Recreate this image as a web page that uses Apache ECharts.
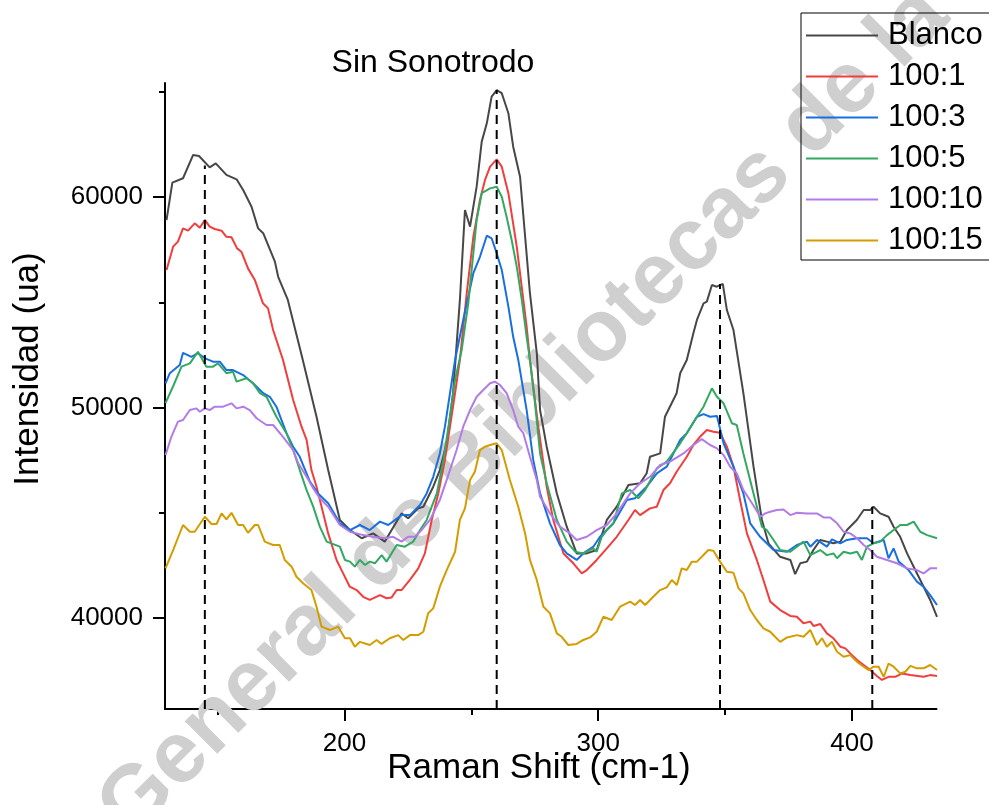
<!DOCTYPE html>
<html>
<head>
<meta charset="utf-8">
<script src="https://cdn.jsdelivr.net/npm/echarts@6/dist/echarts.min.js"></script>
<style>
  html, body { margin: 0; padding: 0; background: #ffffff; }
  #chart { width: 989px; height: 805px; }
</style>
</head>
<body>
<div id="chart"></div>
<script>
// Raman spectra, pairs of [Raman shift (cm-1), intensity (ua)]
const seriesNames = ['Blanco', '100:1', '100:3', '100:5', '100:10', '100:15'];

const blanco = [[129.9,58900],[132.2,60680],[136.4,60890],[140.4,62000],[142.7,61950],[146.9,61410],[149.3,61600],[153.5,61050],[157.5,60840],[160.1,60330],[163.4,59540],[166.0,58510],[168.0,58280],[172.6,56930],[173.9,56210],[177.7,55110],[183.6,52260],[189.0,49560],[193.6,47030],[198.2,44660],[202.2,44180],[206.8,43790],[211.3,44020],[215.9,43630],[218.6,44180],[222.5,44970],[225.1,44740],[229.1,45210],[231.1,45290],[235.0,46240],[237.6,47030],[240.3,48310],[242.8,50690],[245.5,55110],[247.5,59380],[249.5,58590],[252.1,60490],[254.1,62630],[256.1,63500],[258.0,64770],[260.0,65080],[262.0,64930],[264.6,63980],[266.5,62390],[269.2,60960],[273.1,55430],[275.8,52580],[277.1,49880],[279.7,48140],[283.7,45920],[287.6,44340],[291.5,43070],[295.5,43070],[299.4,43230],[303.4,44660],[307.3,45290],[311.9,46320],[316.5,46400],[319.1,46880],[320.4,47660],[324.4,47820],[326.3,49560],[330.9,50680],[332.3,51630],[334.9,52260],[337.5,53530],[338.9,54160],[341.5,54950],[342.8,55030],[344.8,55820],[346.7,55740],[349.1,55870],[350.7,54630],[353.3,53680],[357.2,50680],[361.2,47190],[364.5,44660],[367.1,43550],[371.7,42910],[375.7,42760],[377.6,42090],[379.6,42600],[382.2,42680],[384.8,43230],[387.5,43710],[390.1,43630],[392.7,43550],[395.4,43630],[398.0,44180],[401.9,44660],[404.6,45130],[407.2,45130],[408.5,45290],[411.1,44970],[414.4,44810],[416.4,44340],[419.0,43860],[421.7,43070],[424.3,42440],[426.9,41810],[430.8,40860],[433.5,40060]];

const ratio1 = [[129.9,56530],[132.5,57640],[134.4,57880],[136.4,58510],[138.4,58400],[141.0,58750],[143.0,58540],[145.0,58910],[146.9,58590],[148.9,58480],[151.6,58400],[153.5,58110],[155.5,58090],[157.7,57560],[159.4,57400],[162.0,56610],[164.7,56060],[167.9,54950],[169.9,54710],[171.9,53680],[175.8,52260],[179.8,50360],[183.1,49090],[185.1,48460],[187.0,47030],[189.0,46240],[191.0,45290],[193.6,44020],[196.9,42760],[199.5,42120],[202.1,41490],[204.8,41330],[207.4,41010],[210.0,40860],[214.0,41090],[216.6,40940],[218.6,40980],[220.6,41330],[222.5,41330],[225.8,41810],[229.1,42360],[231.7,43070],[234.4,44660],[237.0,45920],[239.6,47510],[241.6,49090],[243.6,50680],[245.5,52260],[248.2,55430],[250.8,58110],[253.4,59860],[255.4,60810],[257.4,61440],[260.0,61790],[262.0,61440],[264.6,60180],[267.9,57640],[271.8,53840],[273.1,52260],[276.4,49090],[279.7,46240],[282.3,44660],[286.3,43070],[290.2,42600],[293.5,42120],[295.5,42280],[299.4,42760],[303.4,43310],[307.3,43860],[311.9,44660],[314.5,45130],[316.5,44890],[320.4,45210],[323.1,45290],[325.7,46080],[328.3,46400],[330.9,46950],[334.9,47660],[337.5,48220],[340.1,48610],[342.8,48930],[345.4,48850],[348.0,48800],[350.7,48140],[353.3,47190],[355.9,45610],[358.6,44020],[362.5,42760],[365.1,41810],[367.8,40780],[371.7,40380],[375.7,40100],[378.3,40060],[380.9,39750],[383.6,39830],[384.9,39620],[387.5,39720],[390.1,39270],[392.7,39040],[395.4,38640],[397.4,38560],[399.3,38320],[402.0,38010],[404.6,37770],[407.2,37530],[409.8,37250],[411.8,37060],[414.4,37210],[417.1,37210],[419.7,37370],[423.0,37290],[428.2,37210],[430.8,37290],[433.5,37250]];

const ratio3 = [[129.5,51150],[131.2,51630],[135.1,52020],[136.4,52600],[139.7,52410],[142.3,52580],[144.9,52350],[148.2,52180],[150.9,52180],[153.5,51780],[156.1,51780],[160.1,51540],[164.0,51150],[168.0,50680],[170.6,50510],[173.2,50040],[177.2,48770],[179.8,48140],[182.4,47660],[186.4,46480],[189.6,45920],[193.6,45450],[198.2,44500],[202.2,44180],[206.1,44420],[210.0,44180],[214.0,44580],[217.3,44420],[222.5,44890],[225.8,44890],[229.8,45370],[232.4,45920],[235.0,46710],[237.6,47820],[239.6,49090],[241.6,50680],[243.6,52260],[246.8,54160],[250.8,56380],[253.4,57160],[256.1,58160],[258.0,58040],[260.0,57330],[262.0,56530],[264.6,54790],[266.5,53360],[268.5,52260],[271.8,49880],[274.4,47510],[277.1,45920],[281.0,44500],[284.9,43470],[287.6,43070],[291.5,42760],[294.1,43070],[298.1,43390],[300.7,43860],[306.0,44500],[311.3,45610],[314.5,45690],[319.1,46240],[323.1,46870],[327.0,47190],[332.3,48460],[334.9,48780],[338.9,49560],[341.5,49690],[344.1,49560],[346.8,49600],[349.4,48300],[353.3,47190],[357.2,45920],[359.9,44500],[363.8,43860],[369.1,43230],[374.4,43150],[378.3,43470],[382.2,43630],[383.6,43390],[386.2,43710],[390.1,43390],[392.1,43740],[395.4,43550],[398.0,43710],[402.0,43790],[405.9,43790],[408.5,43550],[412.5,43710],[414.4,42840],[416.4,43310],[418.4,42680],[422.3,42280],[425.6,41730],[428.2,41490],[430.8,41090],[433.5,40620]];

const ratio5 = [[129.5,50210],[132.5,51010],[135.8,51940],[139.1,52100],[142.3,52650],[145.6,51940],[148.2,51940],[150.2,52100],[153.5,51630],[156.1,51700],[157.5,51230],[161.4,51390],[164.0,51150],[166.7,50680],[169.3,50510],[173.2,49560],[177.2,48770],[179.8,47980],[182.4,47030],[185.1,46080],[187.7,45290],[190.3,44340],[193.0,43630],[198.2,43390],[200.2,42760],[202.2,42680],[204.1,42440],[206.1,42760],[208.1,42520],[210.0,42680],[212.0,42600],[214.7,42990],[216.6,42680],[220.6,43470],[223.8,43390],[227.1,43630],[229.8,44180],[232.4,44660],[234.4,45290],[236.4,45920],[239.0,47510],[241.6,49560],[243.6,51310],[246.2,52730],[248.8,54950],[250.8,57330],[252.1,58910],[254.1,60180],[257.4,60410],[260.0,60490],[262.0,60010],[263.9,59060],[265.9,57960],[267.9,56690],[269.9,55110],[271.8,53360],[273.1,52260],[275.1,50200],[277.1,47820],[279.7,46400],[283.7,44660],[287.6,43630],[290.9,43150],[294.1,43070],[298.1,43310],[299.4,43150],[301.4,43860],[303.4,44180],[306.0,44500],[309.3,45920],[312.6,46080],[315.8,45690],[318.5,46080],[323.1,47110],[327.0,47430],[332.3,48300],[334.9,48780],[338.9,49560],[341.5,50040],[344.8,50910],[346.8,50510],[349.4,50200],[352.7,49250],[354.6,49170],[357.2,47820],[361.2,45920],[364.5,44340],[366.4,44180],[369.1,43710],[371.7,43230],[375.7,43150],[378.3,43390],[380.9,43630],[383.6,42990],[387.5,43230],[390.1,42990],[392.7,43070],[394.1,42840],[396.7,43150],[399.3,43070],[402.0,43150],[403.9,42760],[405.9,43390],[408.5,43550],[411.1,43630],[413.8,43940],[416.4,44180],[419.0,44420],[421.7,44420],[424.3,44580],[426.9,44100],[429.6,43940],[433.5,43790]];

const ratio10 = [[129.5,47740],[131.8,48610],[134.4,49330],[136.4,49410],[139.1,49880],[141.7,49960],[143.0,49800],[145.0,49960],[146.9,49880],[148.9,50040],[152.2,50040],[155.5,50200],[157.5,49960],[160.1,50040],[162.7,49880],[165.4,49490],[169.3,49170],[171.9,49170],[175.8,48610],[179.8,47980],[181.8,47350],[185.1,46710],[187.7,46160],[190.3,45690],[193.6,45290],[198.2,44420],[202.2,44100],[207.4,43940],[211.3,43860],[215.9,43790],[219.2,43860],[222.5,43630],[225.1,43860],[227.8,43860],[230.4,44180],[233.7,44660],[237.6,45610],[240.3,46560],[244.2,47980],[246.8,49090],[249.5,49880],[252.1,50510],[254.7,50830],[257.4,51150],[259.3,51230],[261.3,51070],[263.9,50680],[266.5,49880],[268.5,49090],[270.5,48780],[273.1,47660],[275.8,46560],[277.1,45760],[281.0,44970],[284.9,44340],[288.9,44020],[291.5,43710],[295.5,43860],[299.4,44180],[303.4,44420],[307.3,44970],[312.6,45920],[316.5,46400],[320.4,46710],[324.4,47270],[328.3,47430],[333.6,47820],[337.5,48220],[340.8,48500],[344.1,48220],[346.8,48060],[349.4,47740],[352.0,47190],[354.6,46870],[357.2,46080],[360.6,45450],[363.9,44810],[365.8,44970],[367.8,45050],[370.4,45130],[373.0,45160],[375.7,44890],[378.3,45000],[382.2,44970],[386.2,44970],[388.8,44780],[391.4,44780],[394.1,44500],[396.7,44100],[399.3,44020],[402.0,43790],[404.6,43470],[407.2,43230],[409.8,42910],[413.8,42760],[417.7,42600],[421.7,42360],[425.6,42280],[428.2,42120],[430.8,42360],[433.5,42360]];

const ratio15 = [[129.5,42360],[132.5,43230],[136.4,44420],[139.1,44100],[141.0,44100],[145.0,44810],[147.6,44470],[149.6,44470],[151.6,44970],[153.5,44690],[155.5,45000],[158.1,44420],[160.1,44420],[162.0,44050],[164.7,44420],[166.0,44420],[168.6,43630],[171.9,43470],[174.5,43470],[176.5,42760],[179.2,42440],[181.1,41960],[183.7,41650],[187.0,41330],[189.0,40540],[191.0,39590],[194.3,39430],[197.5,39590],[200.2,39040],[202.2,39040],[204.1,38640],[206.1,38870],[210.0,38720],[212.7,38960],[214.6,38770],[217.9,39040],[221.2,39190],[223.2,38960],[225.8,39190],[229.1,39190],[231.1,39350],[233.0,40230],[235.0,40460],[237.6,41490],[240.3,42280],[243.6,43150],[245.5,44660],[247.5,45210],[249.5,46560],[251.4,46950],[253.4,47980],[255.4,48140],[257.4,48220],[260.0,48300],[262.0,47980],[265.2,46560],[268.5,45290],[271.2,44020],[273.1,42760],[275.8,41810],[278.4,40540],[281.0,40220],[283.7,39270],[285.6,39110],[288.2,38720],[291.5,38770],[294.1,38960],[296.8,39080],[299.4,39350],[302.0,40060],[305.3,39910],[308.6,40540],[312.6,40780],[314.5,40620],[316.5,40860],[318.5,40620],[321.1,40940],[324.4,41330],[327.0,41460],[329.0,41810],[331.0,41570],[332.9,42360],[334.9,42280],[336.9,42680],[338.9,42680],[340.8,42910],[343.4,43230],[345.4,43200],[348.0,42680],[350.7,42200],[353.3,42150],[355.3,41410],[357.2,41170],[359.9,40380],[362.5,39910],[365.1,39510],[367.8,39350],[369.7,39110],[371.7,38870],[374.4,39080],[378.3,39190],[380.9,39110],[383.6,39430],[386.2,38720],[388.2,39040],[390.1,38640],[392.1,38870],[394.1,38400],[396.7,38160],[399.3,38240],[402.0,37920],[404.6,37690],[406.6,37530],[408.5,37690],[410.5,37690],[412.5,37210],[414.4,37840],[416.4,37690],[419.0,37370],[421.0,37450],[423.0,37730],[425.6,37610],[428.2,37610],[430.8,37770],[433.5,37530]];

// Peak markers: position (cm-1) and top of the dashed guide (ua)
const peakShifts = [145.0, 260.0, 348.0, 408.0];
const peakTops = [61500, 65080, 55870, 45290];

// Axis extents and tick values
const xRange = [129.3, 433.3];
const yRange = [35680, 65415];
const xMajorTicks = [200, 300, 400];
const xMinorTicks = [150, 250, 350];
const yMajorTicks = [40000, 50000, 60000];
const yMinorTicks = [45000, 55000, 65000];

const colors = ['#474747', '#f23d3d', '#1a6fe0', '#32a862', '#b27be6', '#d39d00'];
const FONT = '"Liberation Sans", Arial, Helvetica, sans-serif';

const chart = echarts.init(document.getElementById('chart'), null, { renderer: 'canvas' });

const spectra = [blanco, ratio1, ratio3, ratio5, ratio10, ratio15];

const lineSeries = spectra.map((data, i) => ({
  name: seriesNames[i],
  type: 'line',
  data: data,
  xAxisIndex: 0,
  yAxisIndex: 0,
  symbol: 'none',
  smooth: false,
  clip: true,
  z: 3,
  lineStyle: { color: colors[i], width: 2 },
  itemStyle: { color: colors[i] },
  emphasis: { disabled: true },
  animation: false
}));

const guideSeries = peakShifts.map((x, i) => ({
  type: 'line',
  data: [[x, yRange[0]], [x, peakTops[i]]],
  xAxisIndex: 0,
  yAxisIndex: 0,
  symbol: 'none',
  silent: true,
  z: 5,
  lineStyle: { color: '#000000', width: 2, type: [9, 6] },
  emphasis: { disabled: true },
  animation: false
}));

const axisBase = {
  type: 'value',
  splitLine: { show: false },
  axisPointer: { show: false }
};

const plainNumber = (v) => String(Math.round(v));

const option = {
  backgroundColor: '#ffffff',
  animation: false,
  grid: { left: 165, right: 52.5, top: 83, bottom: 96, containLabel: false },
  legend: {
    data: seriesNames,
    orient: 'vertical',
    left: 801,
    top: 13,
    itemWidth: 72,
    itemHeight: 14,
    itemGap: 10,
    padding: [7, 16, 4, 5],
    borderColor: '#000000',
    borderWidth: 1,
    backgroundColor: 'transparent',
    icon: 'path://M0,6 L72,6 L72,8 L0,8 Z',
    textStyle: { fontSize: 31, lineHeight: 30, color: '#000000', fontFamily: FONT, padding: [0, 0, 0, 5] },
    selectedMode: false,
    z: 20
  },
  xAxis: [
    Object.assign({}, axisBase, {
      min: xRange[0], max: xRange[1], position: 'bottom',
      axisLine: { show: true, onZero: false, lineStyle: { color: '#000000', width: 2 } },
      axisTick: { show: true, length: 12, customValues: xMajorTicks, lineStyle: { color: '#000000', width: 2 } },
      axisLabel: { show: true, customValues: xMajorTicks, formatter: plainNumber, fontSize: 26, color: '#000000', fontFamily: FONT, margin: 22 }
    }),
    Object.assign({}, axisBase, {
      min: xRange[0], max: xRange[1], position: 'bottom',
      axisLine: { show: false, onZero: false },
      axisTick: { show: true, length: 6, customValues: xMinorTicks, lineStyle: { color: '#000000', width: 2 } },
      axisLabel: { show: false }
    })
  ],
  yAxis: [
    Object.assign({}, axisBase, {
      min: yRange[0], max: yRange[1], position: 'left',
      axisLine: { show: true, onZero: false, lineStyle: { color: '#000000', width: 2 } },
      axisTick: { show: true, length: 12, customValues: yMajorTicks, lineStyle: { color: '#000000', width: 2 } },
      axisLabel: { show: true, customValues: yMajorTicks, formatter: plainNumber, fontSize: 26, color: '#000000', fontFamily: FONT, margin: 22 }
    }),
    Object.assign({}, axisBase, {
      min: yRange[0], max: yRange[1], position: 'left', offset: 0,
      axisLine: { show: false, onZero: false },
      axisTick: { show: true, length: 6, customValues: yMinorTicks, lineStyle: { color: '#000000', width: 2 } },
      axisLabel: { show: false }
    })
  ],
  graphic: [
    {
      // library watermark running diagonally behind the plot
      type: 'text',
      x: 114, y: 823,
      rotation: Math.PI / 4,
      z: 1,
      silent: true,
      style: {
        text: 'General de Bibliotecas de la UAQ',
        fontSize: 87,
        fontWeight: 'bold',
        fontFamily: FONT,
        fill: '#cfcfcf',
        textAlign: 'left',
        textVerticalAlign: 'middle'
      }
    },
    {
      type: 'text', x: 433, y: 63, z: 30,
      style: { text: 'Sin Sonotrodo', fontSize: 32, fontFamily: FONT, fill: '#000000', textAlign: 'center', textVerticalAlign: 'middle' }
    },
    {
      type: 'text', x: 539, y: 768, z: 30,
      style: { text: 'Raman Shift (cm-1)', fontSize: 35, fontFamily: FONT, fill: '#000000', textAlign: 'center', textVerticalAlign: 'middle' }
    },
    {
      type: 'text', x: 28, y: 369, z: 30,
      rotation: Math.PI / 2,
      style: { text: 'Intensidad (ua)', fontSize: 35, fontFamily: FONT, fill: '#000000', textAlign: 'center', textVerticalAlign: 'middle' }
    }
  ],
  series: lineSeries.concat(guideSeries)
};

chart.setOption(option);
</script>
</body>
</html>
